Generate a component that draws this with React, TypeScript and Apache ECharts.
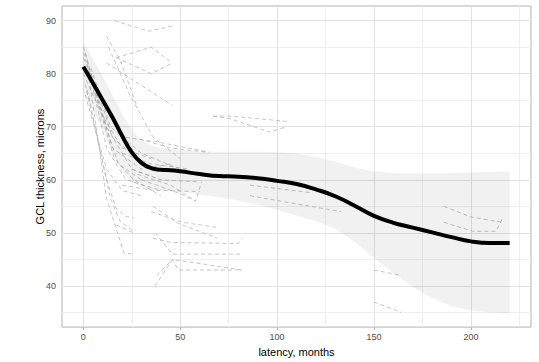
import React, { useEffect, useRef } from 'react';
import * as echarts from 'echarts';

// Axis ticks / grid positions
const xTicks = [0, 50, 100, 150, 200];
const xMinor = [25, 75, 125, 175, 225];
const yTicks = [40, 50, 60, 70, 80, 90];
const yMinor = [35, 45, 55, 65, 75, 85];

// Smoothed mean curve and confidence band
const smoothX = [0, 5, 10, 15, 20, 25, 30, 35, 40, 45, 50, 60, 70, 80, 90, 100, 110, 120, 130, 140, 150, 160, 170, 180, 190, 200, 210, 220];
const smoothY = [81.3, 78.2, 75, 71.8, 68.3, 65.2, 63.2, 62.2, 61.9, 61.8, 61.6, 61.1, 60.7, 60.6, 60.3, 59.8, 59.2, 58.2, 56.9, 55.1, 53.2, 51.9, 51.0, 50.1, 49.2, 48.4, 48.1, 48.1];
const ciUpper = [86, 82.8, 79.5, 76, 72.5, 69.5, 67.5, 66.5, 66, 65.8, 65.6, 65.3, 65.3, 65.3, 65.3, 65.2, 65, 64.3, 63.4, 62.3, 61.6, 61.3, 61.2, 61.2, 61.3, 61.4, 61.5, 61.5];
const ciLower = [76.5, 73, 69.5, 65, 61.5, 59.5, 58.6, 58.2, 58, 57.9, 57.8, 57.2, 56.7, 56.1, 55.3, 54.3, 53.3, 52.2, 50.8, 48.3, 45.3, 42.4, 39.8, 37.7, 36.2, 35.4, 35.0, 34.8];

// Individual subjects: [latency, thickness]
const subj01 = [[0, 85], [12, 70], [25, 62], [40, 60]];
const subj02 = [[1, 84], [10, 72], [18, 63], [30, 60]];
const subj03 = [[0, 83], [8, 76], [15, 68], [28, 64]];
const subj04 = [[2, 82], [12, 66], [22, 60], [40, 58]];
const subj05 = [[0, 80], [10, 72], [20, 66], [35, 64]];
const subj06 = [[3, 79], [12, 56.5], [21, 46.2], [25, 46]];
const subj07 = [[1, 78], [12, 60], [17, 54.6], [22, 53.1], [26, 52.8]];
const subj08 = [[2, 77], [14, 56.5], [19, 52.2], [26, 50.3]];
const subj09 = [[0, 84], [15, 66], [30, 62], [45, 63]];
const subj10 = [[4, 81], [14, 70], [30, 65], [50, 62]];
const subj11 = [[1, 76], [12, 62], [20, 58], [30, 57]];
const subj12 = [[3, 80], [16, 64], [26, 60], [40, 57]];
const subj13 = [[16, 90], [34, 88], [46, 89]];
const subj14 = [[17, 83], [35, 85], [46, 82]];
const subj15 = [[17, 83], [35, 80], [46, 82]];
const subj16 = [[12, 87], [19, 82.6], [28, 73.5]];
const subj17 = [[12, 82], [46, 74]];
const subj18 = [[13, 85], [24, 76], [36, 68], [50, 64]];
const subj19 = [[22, 68], [40, 67], [65, 65.2]];
const subj20 = [[20, 65], [35, 63], [55, 62]];
const subj21 = [[25, 62], [40, 60], [60, 59.6]];
const subj22 = [[28, 61], [45, 59], [58, 56]];
const subj23 = [[30, 60], [50, 57.4], [58, 56], [61, 59.6]];
const subj24 = [[20, 59], [36, 58], [60, 57.8]];
const subj25 = [[35, 54], [51, 52], [70, 51]];
const subj26 = [[36, 55], [49, 51.8], [69, 49]];
const subj27 = [[36, 49], [45, 48.2], [80, 48], [82, 49]];
const subj28 = [[37, 50], [46, 46], [82, 46]];
const subj29 = [[37, 40], [46, 45], [82, 43]];
const subj30 = [[38, 42], [46, 45], [49, 43], [82, 43]];
const subj31 = [[67, 72], [76, 72], [105, 71]];
const subj32 = [[67, 72], [76, 71.5], [96, 69], [105, 70]];
const subj33 = [[86, 59], [117, 57.6]];
const subj34 = [[86, 57], [133, 54]];
const subj35 = [[186, 55], [200, 53], [216, 52]];
const subj36 = [[186, 52], [201, 50.3], [213, 50.3], [216, 52.5]];
const subj37 = [[150, 43], [164, 42]];
const subj38 = [[150, 37], [164, 35]];
const subj39 = [[17, 51.5], [26, 50]];
const subj40 = [[29, 67.7], [45, 66], [64, 65.2]];

const subjects = [
  subj01, subj02, subj03, subj04, subj05, subj06, subj07, subj08, subj09, subj10,
  subj11, subj12, subj13, subj14, subj15, subj16, subj17, subj18, subj19, subj20,
  subj21, subj22, subj23, subj24, subj25, subj26, subj27, subj28, subj29, subj30,
  subj31, subj32, subj33, subj34, subj35, subj36, subj37, subj38, subj39, subj40,
];

const FONT = '"Liberation Sans", Arial, Helvetica, sans-serif';

export default function App() {
  const ref = useRef<HTMLDivElement>(null);

  useEffect(() => {
    document.body.style.margin = '0';
    if (!ref.current) return;
    const chart = echarts.init(ref.current, null, { renderer: 'svg' });

    const majorStyle = { color: '#e2e2e2', width: 1, type: 'solid', opacity: 1 };
    const minorStyle = { color: '#efefef', width: 1, type: 'solid', opacity: 1 };
    const gridLines = [
      ...xMinor.map((v) => ({ xAxis: v, lineStyle: minorStyle })),
      ...yMinor.map((v) => ({ yAxis: v, lineStyle: minorStyle })),
      ...xTicks.map((v) => ({ xAxis: v, lineStyle: majorStyle })),
      ...yTicks.map((v) => ({ yAxis: v, lineStyle: majorStyle })),
    ];

    const subjectSeries = subjects.map((s, i) => ({
      name: 'subj' + i,
      type: 'line',
      data: s,
      symbol: 'none',
      z: 3,
      silent: true,
      lineStyle: { color: '#adadad', width: 0.7, type: [4, 3] },
    }));

    const bandData = smoothX.map((x, i) => [x, ciLower[i], ciUpper[i]]);

    chart.setOption({
      animation: false,
      grid: {
        left: 62,
        right: 8,
        top: 6,
        bottom: 31,
        show: true,
        borderColor: '#b3b3b3',
        borderWidth: 1,
        backgroundColor: 'transparent',
      },
      xAxis: {
        type: 'value',
        min: -11,
        max: 231,
        name: 'latency, months',
        nameLocation: 'middle',
        nameGap: 17,
        nameTextStyle: { fontFamily: FONT, fontSize: 11, color: '#000' },
        axisLine: { show: false },
        axisTick: { show: true, length: 3, customValues: xTicks, lineStyle: { color: '#b3b3b3' } },
        axisLabel: { customValues: xTicks, fontFamily: FONT, fontSize: 9, color: '#4d4d4d', margin: 5 },
        splitLine: { show: false },
      },
      yAxis: {
        type: 'value',
        min: 32.25,
        max: 92.75,
        name: 'GCL thickness, microns',
        nameLocation: 'middle',
        nameGap: 17,
        nameMoveOverlap: false,
        nameTextStyle: { fontFamily: FONT, fontSize: 11, color: '#000' },
        axisLine: { show: false },
        axisTick: { show: true, length: 3, customValues: yTicks, lineStyle: { color: '#b3b3b3' } },
        axisLabel: { customValues: yTicks, fontFamily: FONT, fontSize: 9, color: '#4d4d4d', margin: 6 },
        splitLine: { show: false },
      },
      series: [
        {
          name: 'grid',
          type: 'line',
          data: [],
          z: 1,
          silent: true,
          markLine: {
            silent: true,
            symbol: ['none', 'none'],
            label: { show: false },
            animation: false,
            z: 1,
            data: gridLines,
          },
        },
        ...subjectSeries,
        {
          name: 'band',
          type: 'custom',
          z: 4,
          silent: true,
          data: [0],
          renderItem: (params: any, api: any) => {
            const upper = bandData.map((d) => api.coord([d[0], d[2]]));
            const lower = bandData.map((d) => api.coord([d[0], d[1]])).reverse();
            return {
              type: 'group',
              children: [
                {
                  type: 'polygon',
                  shape: { points: upper.concat(lower), smooth: 0 },
                  style: { fill: 'rgba(0,0,0,0.055)', stroke: 'none' },
                },
              ],
            };
          },
        },
        {
          name: 'smooth',
          type: 'line',
          data: smoothX.map((x, i) => [x, smoothY[i]]),
          symbol: 'none',
          smooth: 0.5,
          z: 5,
          silent: true,
          lineStyle: { color: '#000', width: 4 },
        },
      ],
    });

    return () => chart.dispose();
  }, []);

  return <div ref={ref} style={{ width: 539, height: 362 }} />;
}
